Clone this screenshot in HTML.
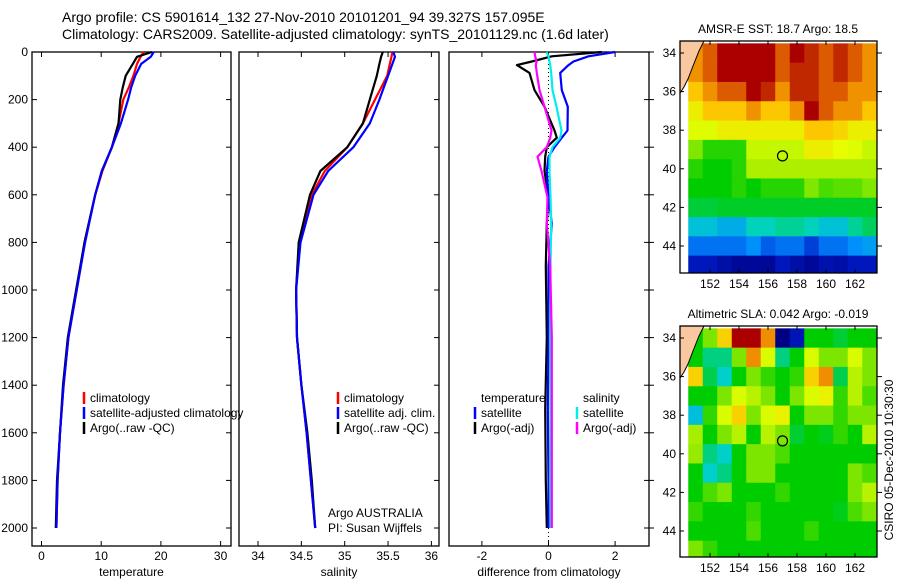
<!DOCTYPE html>
<html><head><meta charset="utf-8">
<style>
html,body{margin:0;padding:0;background:#fff;}
svg text{font-family:"Liberation Sans",sans-serif;}
</style></head>
<body>
<svg id="fig" width="900" height="580" viewBox="0 0 900 580" xmlns="http://www.w3.org/2000/svg">
<defs>
<clipPath id="clipSST"><rect x="680" y="41" width="197" height="232"/></clipPath>
<clipPath id="clipSLA"><rect x="680" y="326" width="197" height="231"/></clipPath>
<clipPath id="clipLabels"><rect x="662" y="0" width="20" height="580"/></clipPath>
</defs>
<text x="62" y="22" font-size="14">Argo profile: CS 5901614_132 27-Nov-2010 20101201_94 39.327S 157.095E</text>
<text x="62" y="39" font-size="14">Climatology: CARS2009. Satellite-adjusted climatology: synTS_20101129.nc (1.6d later)</text>
<g id="g1"></g>
<g id="g2"></g>
<g id="g3"></g>
<g id="gm1"></g>
<g id="gm2"></g>
<text transform="translate(893,460) rotate(-90)" text-anchor="middle" font-size="12">CSIRO 05-Dec-2010 10:30:30</text>
</svg>
<script>
// ---------- profile data ----------
const depths = [0,20,50,100,150,200,300,400,500,600,800,1000,1200,1400,1600,1800,2000];
const tempClim = [17.1,16.6,16.0,15.4,14.6,13.7,12.9,11.8,10.2,9.0,7.2,5.9,4.5,3.7,3.1,2.7,2.5];
const tempSat  = [18.8,18.3,16.7,15.7,15.0,14.5,13.3,11.8,10.1,9.0,7.3,5.9,4.5,3.7,3.1,2.7,2.5];
const tempArgo = [18.5,16.0,15.3,14.1,13.6,13.2,12.9,11.8,10.1,9.0,7.2,5.8,4.4,3.6,3.1,2.6,2.4];
const salClim  = [35.55,35.54,35.52,35.49,35.42,35.35,35.21,35.03,34.77,34.62,34.48,34.44,34.45,34.5,34.56,34.61,34.66];
const salSat   = [35.56,35.58,35.55,35.5,35.45,35.4,35.29,35.1,34.81,34.64,34.49,34.44,34.45,34.5,34.56,34.61,34.66];
const salArgo  = [35.44,35.42,35.40,35.37,35.33,35.29,35.21,35.03,34.72,34.6,34.47,34.44,34.45,34.5,34.57,34.62,34.66];
const diffDepths = [0,18,40,55,88,160,230,330,360,400,440,500,610,720,900,1200,1500,1800,2000];
const dTempSat  = [2.0,1.2,0.75,0.6,0.35,0.4,0.58,0.57,0.4,0.18,0.0,-0.05,0.0,0.1,0.0,0.0,-0.02,0.0,0.0];
const dTempArgo = [1.6,0.1,-0.5,-0.95,-0.57,-0.42,-0.12,0.18,0.25,-0.05,-0.1,-0.12,0.0,-0.05,-0.08,-0.05,-0.1,-0.08,-0.05];
const dSalSat   = [-0.06,0.0,0.03,0.05,0.08,0.12,0.24,0.39,0.35,0.12,0.03,0.03,0.06,0.08,0.06,0.05,0.06,0.05,0.06];
const dSalArgo  = [-0.42,-0.4,-0.36,-0.38,-0.35,-0.27,-0.12,0.09,0.05,-0.05,-0.33,-0.21,-0.03,-0.05,0.05,0.1,0.1,0.1,0.1];
const depthTicks = [0,200,400,600,800,1000,1200,1400,1600,1800,2000];
const tempTicks = [0,10,20,30];
const salTicks = [34,34.5,35,35.5,36];
const salTickLabels = ["34","34.5","35","35.5","36"];
const diffTicks = [-2,0,2];
const diffTickLabels = ["-2","0","2"];
// ---------- map data ----------
const mapLons = [151,152,153,154,155,156,157,158,159,160,161,162,163];
const mapLats = [-34,-35,-36,-37,-38,-39,-40,-41,-42,-43,-44,-45];
const lonTicks = [152,154,156,158,160,162];
const latTicks = [-34,-36,-38,-40,-42,-44];
const sstGrid = [
[19.5,20,21,21,21,21,20,21,20.5,20,20.5,20,19.5],
[19.5,20,21,21,21,21,20,20.5,20.5,20,20.5,20,19.5],
[19,19.5,20,20,21,20.5,19.5,20.5,20.5,20,20,19.5,19.5],
[18.5,19,19,19,19.5,19,19,19.5,21,20,19.5,19.5,19],
[18.2,18.2,18.5,18.5,18.5,18.5,18.5,18.5,19,19,18.8,18.5,18.5],
[17.5,17,17,17,18,18,18,18,18.5,18.5,18.3,18.2,18],
[17,16.8,16.8,17,17.8,17.8,17.8,17.8,17.8,17.8,17.8,17.8,17.8],
[16.8,16.8,16.8,17,16.8,17,17,17,17.5,17.2,17.3,17.3,17.5],
[16.5,16.5,16.6,16.6,16.6,16.6,16.6,16.6,16.6,16.6,16.6,16.6,16.6],
[15.5,15.5,15.2,15.2,15.8,15.8,16,16,15.8,15.5,15.5,16,16.3],
[14.5,14.5,14.5,14.5,14.8,14.3,14.5,14.5,14,14.5,14.5,14.8,15],
[13.5,13.5,13.2,13,13,13,13.5,13.2,13,13.3,13.2,13.5,13.5]];
const slaGrid = [
[0,0.05,0.15,0.3,0.3,0.2,-0.3,-0.25,0,0,-0.02,0,0],
[0,-0.05,-0.05,0.05,0.2,0.1,-0.05,0,0.1,0.05,0.05,0.1,0.05],
[0.15,-0.03,-0.08,0,0.05,0.02,0,0.02,0.15,0.2,-0.03,0.08,0.05],
[0,0,0.05,0.1,0.08,0.05,0,0.05,0.1,0.12,0.02,0.08,0.03],
[-0.1,0.02,0.1,0.15,0.05,0.1,0.12,0,0.05,0.05,0.02,0.05,0.05],
[0.07,0,0.05,0.08,0,0.08,0.05,-0.02,0,-0.01,0.02,0,0.08],
[0.06,-0.05,-0.08,0,0.05,0.05,0.03,0,0,0,0,0,0],
[0,-0.08,-0.05,0,0.05,0.05,0,0,0,0,0,0.05,0.03],
[0,0.03,0.05,0,0,0,0.02,0,0,0,0,0.05,0.08],
[0.02,0,0,0,0.02,0,0,0,0,0,-0.01,0.03,0.05],
[0,0,0,0,0.03,0,0,0,0.02,0,0,0,0],
[0.05,0.02,0,0,0,0,0,0,0,0,0,0,0]];
const argoPos = [157.0,-39.33];

const NS="http://www.w3.org/2000/svg";
function mk(tag,attrs,parent){const e=document.createElementNS(NS,tag);for(const k in attrs)e.setAttribute(k,attrs[k]);parent.appendChild(e);return e;}
const yD = d => 52 + d*0.238;
const xT = t => 41.5 + 5.97*t;
const xS = s => 258 + 86.7*(s-34);
const xDf = v => 548.5 + 33.3*v;

function panel(g,x0,x1,xs,ticks,labels,title,leftLabels,rightTicks){
  const b=mk('rect',{x:x0,y:52,width:x1-x0,height:494,fill:'none',stroke:'#000','stroke-width':1.3},g);
  
  
  depthTicks.forEach(d=>{
    const y=yD(d);
    if(leftLabels){
      const t=mk('text',{x:x0-4,y:y+4,'text-anchor':'end','font-size':12},g);t.textContent=d;
      
      
      mk('line',{x1:x0,x2:x0+5,y1:y,y2:y,stroke:'#000'},g);
    }
    mk('line',{x1:x1-5,x2:x1,y1:y,y2:y,stroke:'#000'},g);
    if(rightTicks) mk('line',{x1:x1,x2:x1+5,y1:y,y2:y,stroke:'#000'},g);
  });
  ticks.forEach((v,i)=>{
    const x=xs(v);
    mk('line',{x1:x,x2:x,y1:546,y2:541,stroke:'#000'},g);
    mk('line',{x1:x,x2:x,y1:52,y2:57,stroke:'#000'},g);
    const t=mk('text',{x:x,y:560,'text-anchor':'middle','font-size':12},g);t.textContent=labels[i];
    
    
  });
  const xt=mk('text',{x:(x0+x1)/2,y:576,'text-anchor':'middle','font-size':12},g);xt.textContent=title;
  
  
}
function line(g,ds,vals,xs,color,name,dash){
  const p=mk('polyline',{points:ds.map((d,i)=>xs(vals[i]).toFixed(1)+','+yD(d).toFixed(1)).join(' '),fill:'none',stroke:color,'stroke-width':2.2,'stroke-linejoin':'round'},g);
  if(dash)p.setAttribute('stroke-dasharray',dash);
  
  
}
function legend(g,x,y,color,label){
  mk('line',{x1:x,x2:x,y1:y-10,y2:y+2,stroke:color,'stroke-width':2.5},g);
  const t=mk('text',{x:x+6,y:y,'font-size':12},g);t.textContent=label;
  
  
}
const g1=document.getElementById('g1'),g2=document.getElementById('g2'),g3=document.getElementById('g3');
panel(g1,32,231,xT,tempTicks,tempTicks.map(String),'temperature',true,false);
line(g1,depths,tempClim,xT,'#f00','temp-climatology-line');
line(g1,depths,tempArgo,xT,'#000','temp-argo-line');
line(g1,depths,tempSat,xT,'#00f','temp-satellite-line');
legend(g1,84,402,'#f00','climatology');
legend(g1,84,417,'#00f','satellite-adjusted climatology');
legend(g1,84,432,'#000','Argo(..raw -QC)');

panel(g2,239,439,xS,salTicks,salTickLabels,'salinity',false,false);
line(g2,depths,salClim,xS,'#f00','sal-climatology-line');
line(g2,depths,salArgo,xS,'#000','sal-argo-line');
line(g2,depths,salSat,xS,'#00f','sal-satellite-line');
legend(g2,338,402,'#f00','climatology');
legend(g2,338,417,'#00f','satellite adj. clim.');
legend(g2,338,432,'#000','Argo(..raw -QC)');
let t=mk('text',{x:328,y:517,'font-size':12},g2);t.textContent='Argo AUSTRALIA';


t=mk('text',{x:328,y:532,'font-size':12},g2);t.textContent='PI: Susan Wijffels';



panel(g3,449,649,xDf,diffTicks,diffTickLabels,'difference from climatology',false,true);
mk('line',{x1:xDf(0),x2:xDf(0),y1:52,y2:546,stroke:'#000','stroke-dasharray':'1,3'},g3);
line(g3,diffDepths,dTempArgo,xDf,'#000','temp-argo-diff-line');
line(g3,diffDepths,dTempSat,xDf,'#00f','temp-satellite-diff-line');
line(g3,diffDepths,dSalSat,xDf,'#0ee','sal-satellite-diff-line');
line(g3,diffDepths,dSalArgo,xDf,'#f0f','sal-argo-diff-line');
t=mk('text',{x:481,y:402,'font-size':12},g3);t.textContent='temperature';


t=mk('text',{x:583,y:402,'font-size':12},g3);t.textContent='salinity';


legend(g3,475,417,'#00f','satellite');
legend(g3,475,432,'#000','Argo(-adj)');
legend(g3,577,417,'#0ee','satellite');
legend(g3,577,432,'#f0f','Argo(-adj)');

// ---------- maps ----------
const stops=[[0,[0,0,130]],[0.12,[0,30,200]],[0.25,[0,140,255]],[0.37,[0,210,200]],[0.5,[0,205,0]],[0.6,[150,235,0]],[0.68,[230,255,0]],[0.78,[255,190,0]],[0.88,[225,100,0]],[1,[170,0,0]]];
function cmap(tn){tn=Math.max(0,Math.min(1,tn));for(let i=1;i<stops.length;i++){if(tn<=stops[i][0]){const a=stops[i-1],b=stops[i];const f=(tn-a[0])/(b[0]-a[0]);const c=a[1].map((v,k)=>Math.round(v+(b[1][k]-v)*f));return 'rgb('+c.join(',')+')';}}return 'rgb(170,0,0)';}
const xL = lon => 710 + 14.5*(lon-152);
function drawMap(g,top,bottom,lat34y,grid,norm,clip,title,circleFill){
  const yL = lat => lat34y + 19.3*(-34-lat);
  const cells=mk('g',{'clip-path':'url(#'+clip+')'},g);
  grid.forEach((row,i)=>row.forEach((v,j)=>{
    const r=mk('rect',{x:xL(mapLons[j]-0.5),y:yL(mapLats[i]+0.5),width:14.9,height:19.7,fill:cmap(norm(v))},cells);
    
    
  }));
  const land=mk('path',{d:`M680 ${top} L704 ${top} L699 ${top+10} L693 ${top+25} L688 ${top+38} L684 ${top+46} L680 ${top+52} Z`,fill:'#fac8a0',stroke:'none'},cells);
  
  
  mk('path',{d:`M704 ${top} L699 ${top+10} L693 ${top+25} L688 ${top+38} L684 ${top+46} L680 ${top+52}`,fill:'none',stroke:'#000','stroke-width':1},cells);
  const c=mk('circle',{cx:xL(argoPos[0]),cy:yL(argoPos[1]),r:5,fill:circleFill,stroke:'#000','stroke-width':1.2},g);
  
  
  const fr=mk('rect',{x:680,y:top,width:197,height:bottom-top,fill:'none',stroke:'#000','stroke-width':1.3},g);
  
  
  lonTicks.forEach(lon=>{
    const x=xL(lon);
    mk('line',{x1:x,x2:x,y1:bottom,y2:bottom-4,stroke:'#000'},g);
    mk('line',{x1:x,x2:x,y1:top,y2:top+4,stroke:'#000'},g);
    const tt=mk('text',{x:x,y:bottom+15,'text-anchor':'middle','font-size':12},g);tt.textContent=lon;
    
    
  });
  const lg=mk('g',{'clip-path':'url(#clipLabels)'},g);
  latTicks.forEach(lat=>{
    const y=yL(lat);
    mk('line',{x1:680,x2:684,y1:y,y2:y,stroke:'#000'},g);
    mk('line',{x1:877,x2:882,y1:y,y2:y,stroke:'#000'},g);
    const tt=mk('text',{x:676,y:y+4,'text-anchor':'end','font-size':12},lg);tt.textContent=lat;
    
    
  });
  const ti=mk('text',{x:778,y:top-8,'text-anchor':'middle','font-size':12},g);ti.textContent=title;
  
  
}
drawMap(document.getElementById('gm1'),41,273,53,sstGrid,v=>(v-12.7)/8.2,'clipSST','AMSR-E SST: 18.7 Argo: 18.5','none');
drawMap(document.getElementById('gm2'),326,557,338,slaGrid,v=>(v+0.3)/0.6,'clipSLA','Altimetric SLA: 0.042 Argo: -0.019','none');
</script>
</body></html>
